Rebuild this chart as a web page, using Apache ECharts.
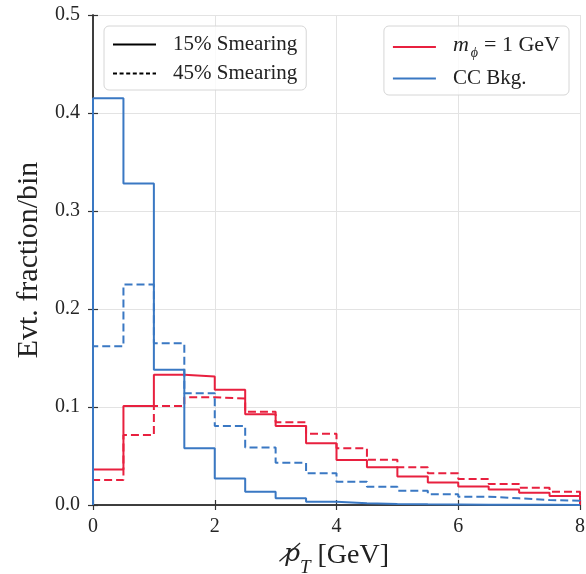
<!DOCTYPE html>
<html>
<head>
<meta charset="utf-8">
<script src="https://cdn.jsdelivr.net/npm/echarts@6/dist/echarts.min.js"></script>
<style>
  html, body { margin: 0; padding: 0; background: #fff; }
  #main { width: 586px; height: 574px; }
</style>
</head>
<body>
<div id="main"></div>
<script>
// 数据：bin 边界（宽 0.5 GeV）和四条直方图
var binEdges = [0, 0.5, 1, 1.5, 2, 2.5, 3, 3.5, 4, 4.5, 5, 5.5, 6, 6.5, 7, 7.5, 8];
var sig15 = [0.0363, 0.101, 0.133, 0.131, 0.1176, 0.0925, 0.0806, 0.063, 0.046, 0.0384, 0.029, 0.023, 0.019, 0.0158, 0.0124, 0.0092];
var sig45 = [0.0254, 0.0715, 0.101, 0.110, 0.1087, 0.0952, 0.0844, 0.0728, 0.0578, 0.0462, 0.0384, 0.0323, 0.0265, 0.0214, 0.0175, 0.0136];
var bkg15 = [0.415, 0.328, 0.138, 0.058, 0.027, 0.0136, 0.0068, 0.0034, 0.0018, 0.001, 0.0007, 0.0005, 0.0003, 0.0002, 0.0002, 0.0001];
var bkg45 = [0.162, 0.225, 0.165, 0.114, 0.0805, 0.0587, 0.0432, 0.0323, 0.0238, 0.0187, 0.0146, 0.011, 0.0085, 0.0068, 0.0051, 0.0044];

var red = '#e8203f';
var blue = '#3a78c3';
var font = 'Liberation Serif';

// step 直方图的点
function steps(vals) {
  var last = binEdges[binEdges.length - 1];
  var pts = [[binEdges[0], 0]];
  vals.forEach(function (v, i) {
    pts.push([binEdges[i], v]);
  });
  pts.push([last, vals[vals.length - 1]]);
  pts.push([last, 0]);
  return pts;
}

function histSeries(name, vals, color, dashed) {
  return {
    name: name,
    type: 'line',
    step: 'end',
    symbol: 'none',
    data: steps(vals),
    color: color,
    lineStyle: { color: color, width: 2, type: dashed ? [8, 4] : 'solid' }
  };
}

var myChart = echarts.init(document.getElementById('main'));

var axisCommon = {
  axisLine: { show: true, lineStyle: { color: '#333', width: 1.5 } },
  axisTick: { show: true, inside: true, length: 5, lineStyle: { color: '#333', width: 1.2 } }
};

var legendText = {
  s15: '15% Smearing',
  s45: '45% Smearing',
  sig: '{i|m}{s|ϕ}{n|= 1 GeV}',
  bkg: 'CC Bkg.'
};

var legendBox = {
  orient: 'vertical',
  top: 26,
  itemWidth: 43,
  itemHeight: 14,
  itemGap: 8,
  padding: [8, 9, 6, 8],
  borderColor: '#d6d6d6',
  borderWidth: 1,
  borderRadius: 5,
  backgroundColor: 'rgba(255,255,255,0.8)',
  selectedMode: false,
  itemStyle: { opacity: 0 },
  lineStyle: { opacity: 1 },
  formatter: function (name) { return legendText[name]; },
  textStyle: {
    fontFamily: font,
    fontSize: 21,
    color: '#222',
    padding: [0, 0, 0, 12],
    rich: {
      i: { fontFamily: font, fontSize: 22, fontStyle: 'italic', color: '#222', lineHeight: 26, verticalAlign: 'top' },
      s: { fontFamily: font, fontSize: 14, fontStyle: 'italic', color: '#222', lineHeight: 26, verticalAlign: 'bottom', padding: [0, 6, 0, 2] },
      n: { fontFamily: font, fontSize: 22, color: '#222', lineHeight: 26, verticalAlign: 'top' }
    }
  }
};

var option = {
  backgroundColor: '#fff',
  animation: false,
  grid: { left: 93, right: 6, top: 15, bottom: 69, containLabel: false, outerBoundsMode: 'none' },
  legend: [
    Object.assign({}, legendBox, { left: 104, data: ['s15', 's45'] }),
    Object.assign({}, legendBox, { right: 17, data: ['sig', 'bkg'] })
  ],
  xAxis: [
    Object.assign({}, axisCommon, {
      type: 'value',
      min: 0,
      max: 8,
      interval: 2,
      name: '{p|p̸}{t|T}{n| [GeV]}',
      nameLocation: 'middle',
      nameGap: 28,
      nameTextStyle: {
        rich: {
          p: { fontFamily: 'DejaVu Serif', fontSize: 25, fontStyle: 'italic', color: '#222', lineHeight: 36, verticalAlign: 'top' },
          t: { fontFamily: font, fontSize: 19, fontStyle: 'italic', color: '#222', lineHeight: 36, verticalAlign: 'bottom' },
          n: { fontFamily: font, fontSize: 28, color: '#222', lineHeight: 36, verticalAlign: 'top' }
        }
      },
      axisLabel: { fontFamily: font, fontSize: 20, color: '#262626', margin: 12 },
      splitLine: { show: true, lineStyle: { color: '#e3e3e3', width: 1 } }
    }),
    Object.assign({}, axisCommon, {
      type: 'value',
      position: 'top',
      min: 0,
      max: 8,
      interval: 2,
      axisLabel: { show: false },
      splitLine: { show: false }
    })
  ],
  yAxis: [
    Object.assign({}, axisCommon, {
      type: 'value',
      min: 0,
      max: 0.5,
      interval: 0.1,
      name: 'Evt. fraction/bin',
      nameLocation: 'middle',
      nameGap: 48,
      nameTextStyle: { fontFamily: font, fontSize: 30, color: '#222' },
      axisLabel: {
        fontFamily: font,
        fontSize: 20,
        color: '#262626',
        margin: 13,
        formatter: function (v) { return v.toFixed(1); }
      },
      splitLine: { show: true, lineStyle: { color: '#e3e3e3', width: 1 } }
    }),
    Object.assign({}, axisCommon, {
      type: 'value',
      position: 'right',
      min: 0,
      max: 0.5,
      interval: 0.1,
      axisLabel: { show: false },
      splitLine: { show: false }
    })
  ],
  series: [
    { name: 's15', type: 'line', data: [], symbol: 'none', color: '#000', lineStyle: { color: '#000', width: 1.3, type: 'solid' } },
    { name: 's45', type: 'line', data: [], symbol: 'none', color: '#000', lineStyle: { color: '#000', width: 1.3, type: [4, 2.6] } },
    histSeries('sig', sig15, red, false),
    histSeries('sig', sig45, red, true),
    histSeries('bkg', bkg15, blue, false),
    histSeries('bkg', bkg45, blue, true)
  ]
};

myChart.setOption(option);
</script>
</body>
</html>
